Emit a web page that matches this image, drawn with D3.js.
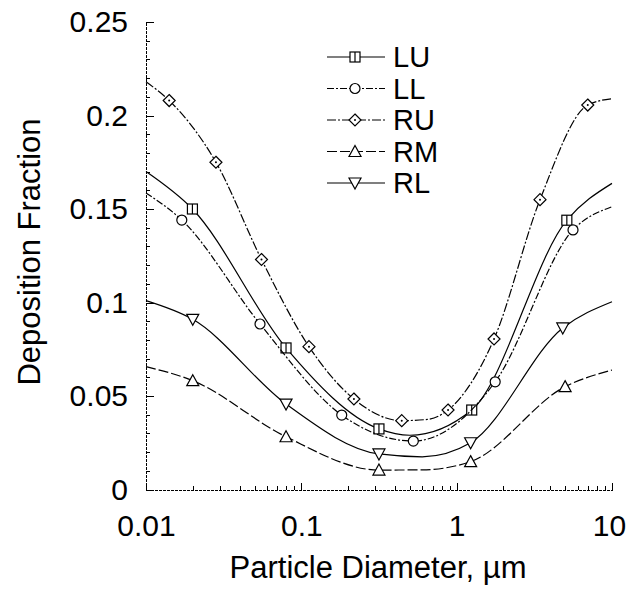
<!DOCTYPE html>
<html>
<meta charset="utf-8">
<style>

body {
  margin: 0;
  background: #fff;
}

text {
  font-family: "Liberation Sans", Arial, sans-serif;
  fill: #000;
}

.axis path,
.axis line {
  fill: none;
  stroke: #000;
  shape-rendering: crispEdges;
}

.axis path {
  stroke-dasharray: 3, 1;
}

.curve {
  fill: none;
  stroke: #000;
  stroke-width: 1.2px;
}

.marker {
  fill: #fff;
  stroke: #000;
  stroke-width: 1.2px;
}

</style>
<body>
<script src="https://d3js.org/d3.v7.min.js"></script>
<script>

// particle diameters (um) and deposition fractions
var luX = [0.01, 0.0199, 0.0797, 0.316, 0.5, 1.25, 5.12, 10],
    luY = [0.170, 0.150, 0.0757, 0.0324, 0.029, 0.0425, 0.144, 0.1637],
    luMarks = [1, 2, 3, 5, 6];

var llX = [0.01, 0.017, 0.0542, 0.182, 0.526, 1.77, 5.61, 10],
    llY = [0.1586, 0.1441, 0.0885, 0.0398, 0.0259, 0.0576, 0.1388, 0.1512],
    llMarks = [1, 2, 3, 4, 5, 6];

var ruX = [0.01, 0.0141, 0.0282, 0.0554, 0.112, 0.218, 0.443, 0.65, 0.88, 1.74, 3.44, 6.98, 10],
    ruY = [0.218, 0.208, 0.175, 0.123, 0.0764, 0.0484, 0.0368, 0.0375, 0.0425, 0.0805, 0.155, 0.2056, 0.209],
    ruMarks = [1, 2, 3, 4, 5, 6, 8, 9, 10, 11];

var rmX = [0.01, 0.02, 0.0797, 0.316, 0.6, 1.23, 4.99, 10],
    rmY = [0.0657, 0.0582, 0.0282, 0.0104, 0.0105, 0.0149, 0.055, 0.0639],
    rmMarks = [1, 2, 3, 5, 6];

var rlX = [0.01, 0.02, 0.0797, 0.316, 0.6, 1.23, 4.82, 10],
    rlY = [0.101, 0.091, 0.0457, 0.019, 0.0175, 0.025, 0.0864, 0.1004],
    rlMarks = [1, 2, 3, 5, 6];

var seriesNames = ["LU", "LL", "RU", "RM", "RL"];
var xTicks = [0.01, 0.1, 1, 10];
var yTicks = [0, 0.05, 0.1, 0.15, 0.2, 0.25];

var series = [
  {name: "LU", xs: luX, ys: luY, marks: luMarks, symbol: "square", dash: null},
  {name: "LL", xs: llX, ys: llY, marks: llMarks, symbol: "circle", dash: "7,2,2,2"},
  {name: "RU", xs: ruX, ys: ruY, marks: ruMarks, symbol: "diamond", dash: "9,2,2,2"},
  {name: "RM", xs: rmX, ys: rmY, marks: rmMarks, symbol: "up", dash: "10,3"},
  {name: "RL", xs: rlX, ys: rlY, marks: rlMarks, symbol: "down", dash: null}
];

var width = 628,
    height = 589;

var svg = d3.select("body").append("svg")
    .attr("width", width)
    .attr("height", height);

var x = d3.scaleLog()
    .domain([0.01, 10])
    .range([146, 612]);

var y = d3.scaleLinear()
    .domain([0, 0.25])
    .range([489.5, 22]);

// minor ticks
svg.append("g")
    .attr("class", "axis")
    .attr("transform", "translate(0," + y(0) + ")")
    .call(d3.axisBottom(x).ticks(10).tickSize(-4).tickFormat(""))
    .select(".domain").remove();

svg.append("g")
    .attr("class", "axis")
    .attr("transform", "translate(" + x(0.01) + ",0)")
    .call(d3.axisLeft(y).tickValues(d3.range(0, 0.2501, 0.01)).tickSize(-4).tickFormat(""))
    .select(".domain").remove();

var xAxis = d3.axisBottom(x)
    .tickValues(xTicks)
    .tickSize(-7)
    .tickSizeOuter(0)
    .tickPadding(25)
    .tickFormat(function(d) { return String(d); });

var yAxis = d3.axisLeft(y)
    .tickValues(yTicks)
    .tickSize(-8)
    .tickSizeOuter(0)
    .tickPadding(18)
    .tickFormat(function(d) { return String(d); });

svg.append("g")
    .attr("class", "x axis")
    .attr("transform", "translate(0," + y(0) + ")")
    .call(xAxis)
    .selectAll("text")
    .style("font-size", "30px")
    .attr("dx", function(d) { return d === 10 ? -3 : 0; });

svg.append("g")
    .attr("class", "y axis")
    .attr("transform", "translate(" + x(0.01) + ",0)")
    .call(yAxis)
    .selectAll("text")
    .style("font-size", "30px");

svg.append("text")
    .attr("x", 378)
    .attr("y", 578)
    .attr("text-anchor", "middle")
    .style("font-size", "31px")
    .text("Particle Diameter, \u00b5m");

svg.append("text")
    .attr("transform", "translate(40,252) rotate(-90)")
    .attr("text-anchor", "middle")
    .style("font-size", "31px")
    .text("Deposition Fraction");

var line = d3.line()
    .x(function(d) { return x(d[0]); })
    .y(function(d) { return y(d[1]); })
    .curve(d3.curveMonotoneX);

function drawMarker(g, symbol, cx, cy) {
  var s = 5;
  if (symbol === "square") {
    g.append("rect").attr("class", "marker")
        .attr("x", cx - s).attr("y", cy - s).attr("width", 2 * s).attr("height", 2 * s);
    g.append("line").attr("class", "marker")
        .attr("x1", cx).attr("x2", cx).attr("y1", cy - s).attr("y2", cy + s);
  } else if (symbol === "circle") {
    g.append("circle").attr("class", "marker")
        .attr("cx", cx).attr("cy", cy).attr("r", s);
  } else if (symbol === "diamond") {
    g.append("path").attr("class", "marker")
        .attr("d", "M" + cx + "," + (cy - s - 1) + "L" + (cx + s + 1) + "," + cy +
          "L" + cx + "," + (cy + s + 1) + "L" + (cx - s - 1) + "," + cy + "Z");
    g.append("circle").attr("cx", cx).attr("cy", cy).attr("r", 1);
  } else if (symbol === "up") {
    g.append("path").attr("class", "marker")
        .attr("d", "M" + cx + "," + (cy - s - 1) + "L" + (cx + s + 1) + "," + (cy + s) +
          "L" + (cx - s - 1) + "," + (cy + s) + "Z");
  } else {
    g.append("path").attr("class", "marker")
        .attr("d", "M" + (cx - s - 1) + "," + (cy - s) + "L" + (cx + s + 1) + "," + (cy - s) +
          "L" + cx + "," + (cy + s + 1) + "Z");
  }
}

series.forEach(function(s) {
  var pts = s.xs.map(function(v, i) { return [v, s.ys[i]]; });
  var g = svg.append("g");
  g.append("path")
      .datum(pts)
      .attr("class", "curve")
      .attr("stroke-dasharray", s.dash)
      .attr("d", line);
  s.marks.forEach(function(i) {
    drawMarker(g, s.symbol, x(pts[i][0]), y(pts[i][1]));
  });
});

// legend
var legend = svg.append("g");

series.forEach(function(s, i) {
  var ly = 57 + i * 31.5;
  var row = legend.append("g");
  row.append("line")
      .attr("class", "curve")
      .attr("stroke-dasharray", s.dash)
      .attr("x1", 327)
      .attr("x2", 385)
      .attr("y1", ly)
      .attr("y2", ly);
  drawMarker(row, s.symbol, 355, ly);
  row.append("text")
      .attr("x", 393)
      .attr("y", ly)
      .attr("dy", "0.35em")
      .style("font-size", "29px")
      .text(seriesNames[i]);
});

</script>
</body>
</html>
